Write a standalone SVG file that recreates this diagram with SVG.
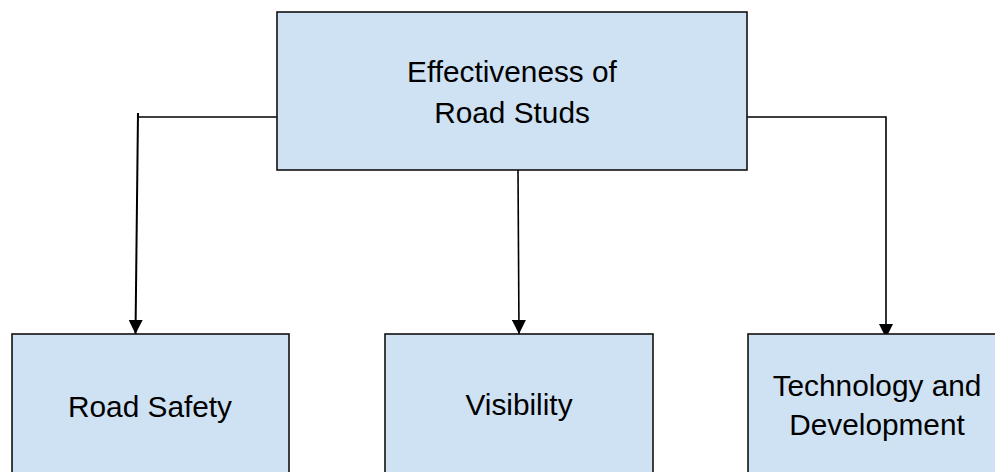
<svg xmlns="http://www.w3.org/2000/svg" width="995" height="472" viewBox="0 0 995 472">
<style>
.box{fill:#cfe2f3;stroke:#111;stroke-width:1.6}
.lbl{font-family:"Liberation Sans",Arial,sans-serif;font-size:29.8px;fill:#000;text-anchor:middle}
.con{fill:none;stroke:#000;stroke-width:1.6}
</style>
<defs>
<marker id="arr" markerUnits="userSpaceOnUse" markerWidth="14" markerHeight="14" refX="14" refY="7" orient="auto" viewBox="0 0 14 14">
<path d="M0,0 L14,7 L0,14 z" fill="#000"/>
</marker>
</defs>
<rect width="995" height="472" fill="#fff"/>
<g id="connectors">
<path class="con" d="M277,117 H138"/>
<path class="con" d="M138,113 L135.5,334" marker-end="url(#arr)" style="stroke-width:2"/>
<path class="con" d="M518,170 L519,334" marker-end="url(#arr)"/>
<path class="con" d="M747,117 H886 V338" marker-end="url(#arr)"/>
</g>
<g id="node-root">
<rect class="box" x="277" y="12" width="470" height="158"/>
<text class="lbl" x="512" y="82">Effectiveness of</text>
<text class="lbl" x="512" y="123">Road Studs</text>
</g>
<g id="node-safety">
<rect class="box" x="12" y="334" width="277" height="160"/>
<text class="lbl" x="150" y="417">Road Safety</text>
</g>
<g id="node-visibility">
<rect class="box" x="385" y="334" width="268" height="160"/>
<text class="lbl" x="519" y="415">Visibility</text>
</g>
<g id="node-tech">
<rect class="box" x="748" y="334" width="260" height="160"/>
<text class="lbl" x="877" y="396">Technology and</text>
<text class="lbl" x="877" y="435">Development</text>
</g>
</svg>
